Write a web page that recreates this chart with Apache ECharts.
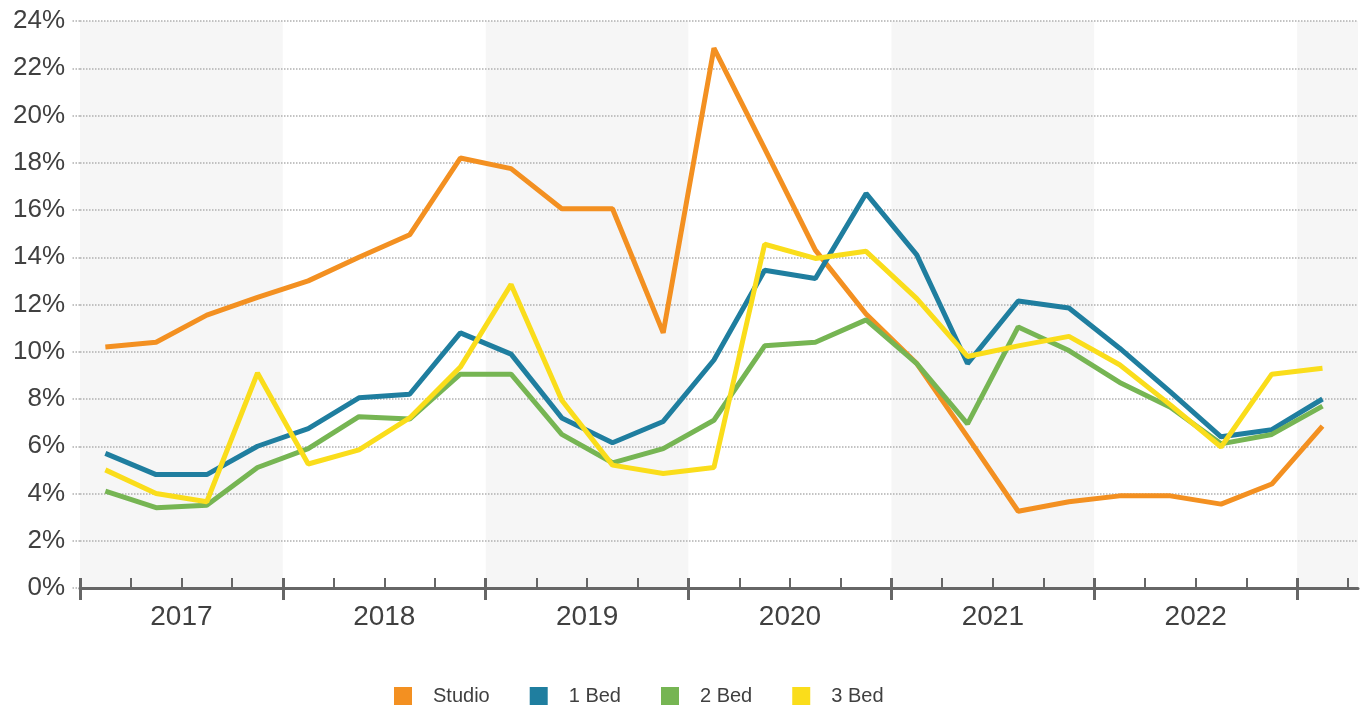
<!DOCTYPE html>
<html>
<head>
<meta charset="utf-8">
<script src="https://cdn.jsdelivr.net/npm/echarts@6/dist/echarts.min.js"></script>
<style>
  html, body { margin: 0; padding: 0; background: #fff; }
  #chart { width: 1368px; height: 711px; }
</style>
</head>
<body>
<div id="chart"></div>
<script>
// quarters 2017 Q1 .. 2023 Q1, x value = quarter index + 0.5
var quarters = ['2017 Q1','2017 Q2','2017 Q3','2017 Q4','2018 Q1','2018 Q2','2018 Q3','2018 Q4',
  '2019 Q1','2019 Q2','2019 Q3','2019 Q4','2020 Q1','2020 Q2','2020 Q3','2020 Q4',
  '2021 Q1','2021 Q2','2021 Q3','2021 Q4','2022 Q1','2022 Q2','2022 Q3','2022 Q4','2023 Q1'];
var years = ['2017', '2018', '2019', '2020', '2021', '2022'];
var seriesNames = ['Studio', '1 Bed', '2 Bed', '3 Bed'];

var studio = [10.2, 10.4, 11.55, 12.3, 13.0, 14.0, 14.95, 18.2, 17.75, 16.05, 16.05, 10.8,
  22.85, 18.6, 14.3, 11.6, 9.5, 6.4, 3.25, 3.65, 3.9, 3.9, 3.55, 4.4, 6.85];
var bed1 = [5.7, 4.8, 4.8, 6.0, 6.75, 8.05, 8.2, 10.8, 9.9, 7.2, 6.15, 7.05,
  9.65, 13.45, 13.1, 16.7, 14.1, 9.5, 12.15, 11.85, 10.15, 8.3, 6.4, 6.7, 8.0];
var bed2 = [4.1, 3.4, 3.5, 5.1, 5.9, 7.25, 7.15, 9.05, 9.05, 6.5, 5.3, 5.9,
  7.1, 10.25, 10.4, 11.35, 9.5, 6.95, 11.05, 10.05, 8.7, 7.65, 6.1, 6.5, 7.7];
var bed3 = [5.0, 4.0, 3.65, 9.1, 5.25, 5.85, 7.2, 9.35, 12.85, 7.95, 5.2, 4.85,
  5.1, 14.55, 13.95, 14.25, 12.25, 9.8, 10.25, 10.65, 9.45, 7.75, 5.97, 9.05, 9.3];

var colors = ['#F39021', '#1F7E9F', '#76B553', '#FADD1B'];

var xMax = 25.2;
var quarterTicks = [];
for (var i = 0; i <= quarters.length; i++) quarterTicks.push(i);
var yearTicks = [];
var yearLabelPos = [];
for (var j = 0; j <= years.length; j++) yearTicks.push(j * 4);
for (var k = 0; k < years.length; k++) yearLabelPos.push(k * 4 + 2);

function toPoints(arr) {
  return arr.map(function (v, i) { return [i + 0.5, v]; });
}

var chart = echarts.init(document.getElementById('chart'));
var textColor = '#404040';
var axisColor = '#666666';

chart.setOption({
  animation: false,
  color: colors,
  textStyle: { fontFamily: 'Liberation Sans, Arial, sans-serif' },
  grid: { left: 80, right: 10, top: 21, bottom: 123, containLabel: false },
  legend: {
    data: seriesNames,
    left: 394,
    top: 686,
    padding: 0,
    icon: 'rect',
    itemWidth: 18,
    itemHeight: 18,
    itemGap: 40,
    textStyle: { fontSize: 20, color: textColor, padding: [0, 0, 0, 16] }
  },
  xAxis: [
    {
      // line + quarter ticks
      type: 'value', position: 'bottom', min: 0, max: xMax,
      axisLine: { show: true, lineStyle: { color: axisColor, width: 3 } },
      axisTick: { show: true, inside: true, length: 10, customValues: quarterTicks,
        lineStyle: { color: axisColor, width: 2 } },
      axisLabel: { show: false },
      splitLine: { show: false }
    },
    {
      // year ticks + labels
      type: 'value', position: 'bottom', min: 0, max: xMax,
      axisLine: { show: false },
      axisTick: { show: true, length: 12, customValues: yearTicks,
        lineStyle: { color: axisColor, width: 3 } },
      axisLabel: {
        show: true, customValues: yearLabelPos, margin: 15,
        fontSize: 28, color: textColor,
        formatter: function (v) { return years[Math.round((v - 2) / 4)]; }
      },
      splitLine: { show: false }
    },
    {
      // upper part of year ticks
      type: 'value', position: 'bottom', min: 0, max: xMax,
      axisLine: { show: false },
      axisTick: { show: true, inside: true, length: 10, customValues: yearTicks,
        lineStyle: { color: axisColor, width: 3 } },
      axisLabel: { show: false },
      splitLine: { show: false }
    },
    {
      // alternating year bands
      type: 'value', position: 'bottom', min: 0, max: xMax, interval: 4, z: -1,
      axisLine: { show: false }, axisTick: { show: false }, axisLabel: { show: false },
      splitLine: { show: false },
      splitArea: { show: true, areaStyle: { color: ['#f6f6f6', '#ffffff'] } }
    }
  ],
  yAxis: {
    type: 'value', min: 0, max: 24, interval: 2,
    axisLine: { show: false },
    axisTick: { show: true, length: 8, lineStyle: { color: '#b0b0b0', type: 'dotted', width: 1.5 } },
    axisLabel: { formatter: '{value}%', fontSize: 26, color: textColor, margin: 15 },
    splitLine: { show: true, lineStyle: { color: '#b0b0b0', type: 'dotted', width: 1.5 } }
  },
  series: [
    { name: 'Studio', type: 'line', data: toPoints(studio) },
    { name: '1 Bed', type: 'line', data: toPoints(bed1) },
    { name: '2 Bed', type: 'line', data: toPoints(bed2) },
    { name: '3 Bed', type: 'line', data: toPoints(bed3) }
  ].map(function (s) {
    s.xAxisIndex = 0;
    s.showSymbol = false;
    s.symbol = 'none';
    s.lineStyle = { width: 5 };
    return s;
  })
});
</script>
</body>
</html>
